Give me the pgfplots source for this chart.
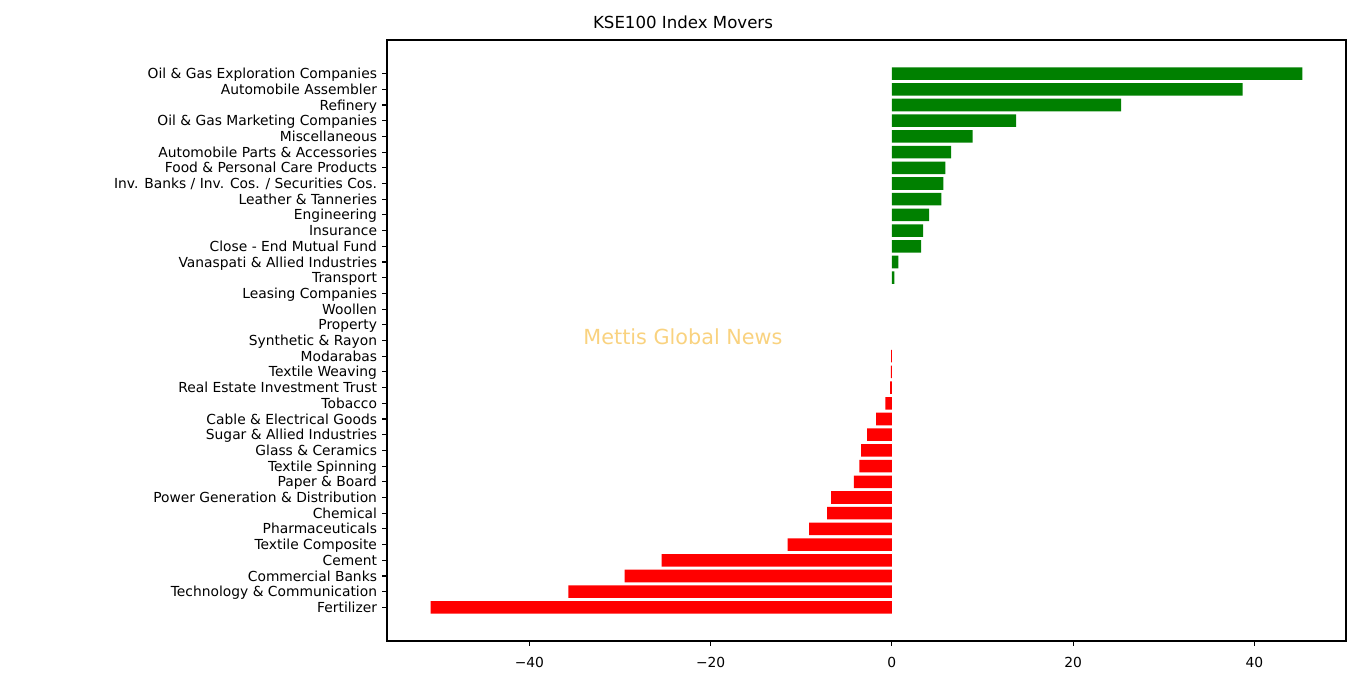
\documentclass[border=0pt]{standalone}
\usepackage{fontspec}
\setmainfont{DejaVu Sans}
\usepackage{pgfplots}
\pgfplotsset{compat=1.18}
\usepackage{pgfplotstable}
\definecolor{mplgreen}{RGB}{0,128,0}
\definecolor{mplred}{RGB}{255,0,0}
\definecolor{wm}{RGB}{249,210,127}

\pgfplotstableread{
y v
0 45.3
1 38.7
2 25.3
3 13.7
4 8.9
5 6.55
6 5.9
7 5.67
8 5.45
9 4.1
10 3.46
11 3.24
12 0.72
13 0.28
}\pos

\pgfplotstableread{
y v
18 -0.08
19 -0.1
20 -0.2
21 -0.72
22 -1.74
23 -2.73
24 -3.4
25 -3.6
26 -4.2
27 -6.7
28 -7.15
29 -9.14
30 -11.5
31 -25.4
32 -29.5
33 -35.7
34 -50.9
}\neg

\begin{document}
\begin{tikzpicture}
\useasboundingbox (0,0) rectangle (983.52bp,486bp);
\begin{axis}[
  at={(278.64bp,24.48bp)}, anchor=south west,
  width=690.48bp, height=432.72bp, scale only axis,
  xmin=-55.71, xmax=50.11, ymin=-2.14, ymax=36.14,
  y dir=reverse,
  xbar, bar width=0.8, bar shift=0pt,
  ytick={0,...,34},
  yticklabels={Oil \& Gas Exploration Companies, Automobile Assembler, Refinery, Oil \& Gas Marketing Companies, Miscellaneous, Automobile Parts \& Accessories, Food \& Personal Care Products, Inv. Banks / Inv. Cos. / Securities Cos., Leather \& Tanneries, Engineering, Insurance, Close - End Mutual Fund, Vanaspati \& Allied Industries, Transport, Leasing Companies, Woollen, Property, Synthetic \& Rayon, Modarabas, Textile Weaving, Real Estate Investment Trust, Tobacco, Cable \& Electrical Goods, Sugar \& Allied Industries, Glass \& Ceramics, Textile Spinning, Paper \& Board, Power Generation \& Distribution, Chemical, Pharmaceuticals, Textile Composite, Cement, Commercial Banks, Technology \& Communication, Fertilizer},
  xtick={-40,-20,0,20,40},
  xticklabels={−40,−20,0,20,40},
  minor tick num=0,
  xtick pos=lower, ytick pos=left,
  tick align=outside, major tick length=3.5bp,
  tick style={black, line width=0.8bp},
  axis line style={line width=0.8bp},
  ticklabel style={font=\fontsize{10}{12}\selectfont},
  yticklabel style={anchor=east, inner sep=0pt, text height=7.3bp, text depth=0pt, xshift=-3.5bp},
  xticklabel style={anchor=north, inner sep=0pt, text height=7.3bp, text depth=0pt, yshift=-7.8bp},
]
\addplot[fill=mplgreen, draw=none] table[x=v,y=y]{\pos};
\addplot[fill=mplred, draw=none] table[x=v,y=y]{\neg};
\end{axis}
\node[font=\fontsize{12}{14}\selectfont] at (491.76bp,470.16bp) {KSE100 Index Movers};
\node[font=\fontsize{15}{18}\selectfont, text=wm] at (491.76bp,243.36bp) {Mettis Global News};
\end{tikzpicture}
\end{document}
